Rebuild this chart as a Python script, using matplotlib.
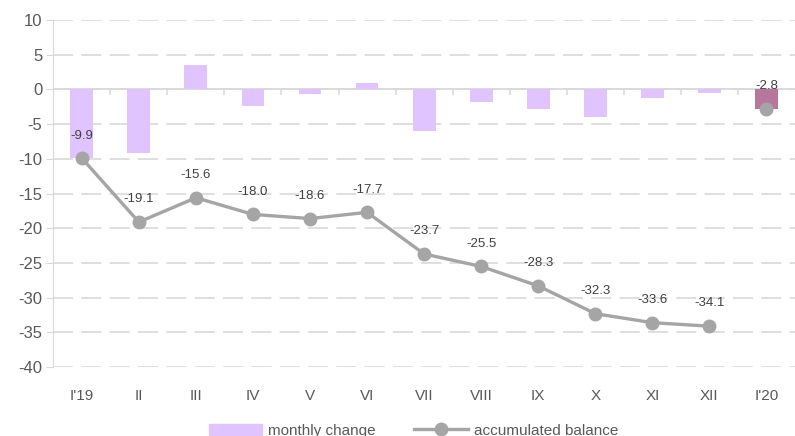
import numpy as np
import matplotlib.pyplot as plt
from matplotlib.patches import Patch
from matplotlib.lines import Line2D

plt.rcParams["font.family"] = ["Liberation Sans", "DejaVu Sans"]
plt.rcParams["axes.unicode_minus"] = False

# data
months = ["I'19", "II", "III", "IV", "V", "VI", "VII", "VIII", "IX", "X", "XI", "XII", "I'20"]
monthly_change = [-9.9, -9.2, 3.5, -2.4, -0.6, 0.9, -6.0, -1.8, -2.8, -4.0, -1.3, -0.5, -2.8]
balance_2019 = [-9.9, -19.1, -15.6, -18.0, -18.6, -17.7, -23.7, -25.5, -28.3, -32.3, -33.6, -34.1]
balance_2020 = [-2.8]

bar_col = "#E0C4FF"
last_bar_col = "#B5789C"
line_col = "#A5A5A5"
grid_col = "#D9D9D9"
text_col = "#595959"

x = np.arange(len(months))
x19 = x[:len(balance_2019)]
x20 = x[len(balance_2019):]

fig = plt.figure(figsize=(7.95, 4.36), dpi=100)
ax = fig.add_axes([0.067, 0.158, 0.933, 0.796])

colors = [bar_col] * (len(months) - 1) + [last_bar_col]
ax.bar(x, monthly_change, width=0.4, color=colors, zorder=2)

ax.plot(x19, balance_2019, color=line_col, lw=2.4, marker="o", ms=9, zorder=3)
ax.plot(x20, balance_2020, color=line_col, lw=0, marker="o", ms=9, zorder=3)

for xi, v in zip(x19, balance_2019):
    ax.annotate(f"{v:.1f}", (xi, v), xytext=(0, 12), textcoords="offset points",
                ha="center", va="bottom", fontsize=9.5, color="#404040")
for xi, v in zip(x20, balance_2020):
    ax.annotate(f"{v:.1f}", (xi, v), xytext=(0, 12), textcoords="offset points",
                ha="center", va="bottom", fontsize=9.5, color="#404040")

ax.set_ylim(-40, 10)
ax.set_xlim(-0.5, len(months) - 0.5)
ax.set_yticks(np.arange(-40, 11, 5))
ax.yaxis.grid(True, color=grid_col, lw=1.2, linestyle=(0, (12, 5)), zorder=0)
ax.set_axisbelow(True)

# zero line with category separators
ax.axhline(0, color=grid_col, lw=1.3, zorder=1)
ax.vlines(x[:-1] + 0.5, -0.75, 0, color=grid_col, lw=1.1, zorder=1)

ax.set_xticks(x)
ax.set_xticklabels(months)
ax.tick_params(axis="x", length=0, pad=16, labelsize=11, colors=text_col)
ax.tick_params(axis="y", length=5, labelsize=12, labelcolor=text_col, color=grid_col, pad=3)

for s in ["top", "right", "bottom"]:
    ax.spines[s].set_visible(False)
ax.spines["left"].set_color(grid_col)

handles = [Patch(color=bar_col),
           Line2D([], [], color=line_col, lw=2.4, marker="o", ms=9)]
fig.legend(handles, ["monthly change", "accumulated balance"], loc="lower center",
           bbox_to_anchor=(0.52, -0.035), ncol=2, frameon=False, fontsize=11,
           labelcolor=text_col, handlelength=3.5, columnspacing=2.5, handletextpad=0.4)

fig.savefig("out.png", dpi=100)
